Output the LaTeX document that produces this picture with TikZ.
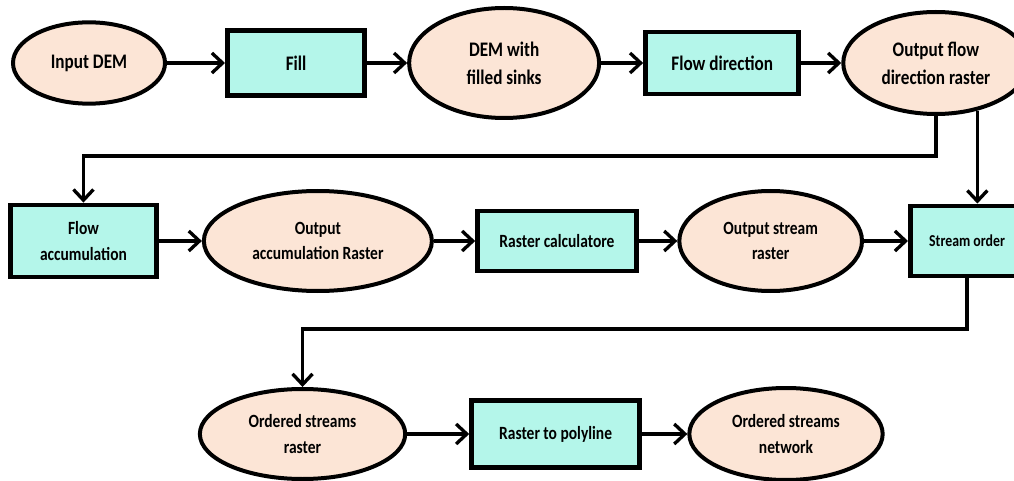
\documentclass[tikz,border=0pt]{standalone}
\usepackage{fontspec}
\setmainfont{Carlito}[FakeStretch=0.83]
\usetikzlibrary{positioning}
\usetikzlibrary{shapes.geometric}
\usetikzlibrary{arrows.meta}
\definecolor{peach}{RGB}{252,229,214}
\definecolor{mint}{RGB}{180,246,234}

\begin{document}
\begin{tikzpicture}[node distance=30pt,
        data/.style={ellipse, draw=black, line width=3pt, fill=peach, align=center, inner sep=0pt},
        process/.style={rectangle, draw=black, line width=3.6pt, fill=mint, align=center},
        arr/.style={line width=2.5pt,-{Straight Barb[length=8pt,width=15pt]}},
        big/.style={font=\fontsize{15.5}{21}\selectfont\bfseries},
        small/.style={font=\fontsize{14}{19}\selectfont\bfseries}
        ]
        \useasboundingbox (0,0) rectangle (760.5pt,-360.75pt);
        % first row
        \node (in)    [data, big, minimum width=114pt, minimum height=61pt] at (66.75pt,-47.25pt) {Input DEM};
        \node (fillp) [process, big, minimum width=103pt, minimum height=49pt, right=43.5pt of in] {Fill};
        \node (dem)   [data, big, minimum width=142.5pt, minimum height=82.5pt, right=of fillp] {DEM with\\filled sinks};
        \node (fdir)  [process, big, minimum width=115pt, minimum height=46.5pt, right=31.5pt of dem] {Flow direction};
        \node (ofd)   [data, big, minimum width=139pt, minimum height=76.5pt, right=of fdir] {Output flow\\direction raster};
        \draw[arr] (in) -- (fillp);
        \draw[arr] (fillp) -- (dem);
        \draw[arr] (dem) -- (fdir);
        \draw[arr] (fdir) -- (ofd);
        % second row
        \node (facc)  [process, small, minimum width=110pt, minimum height=54pt] at (62.6pt,-180.75pt) {Flow\\accumulation};
        \node (oacc)  [data, small, minimum width=171pt, minimum height=75pt, right=32pt of facc] {Output\\accumulation Raster};
        \node (rcalc) [process, small, minimum width=119pt, minimum height=45pt, right=31pt of oacc] {Raster calculatore};
        \node (osr)   [data, small, minimum width=137pt, minimum height=75pt, right=29pt of rcalc] {Output stream\\raster};
        \node (sord)  [process, small, font=\fontsize{12.5}{17}\selectfont\bfseries, minimum width=85pt, minimum height=52.5pt, right=33pt of osr] {Stream order};
        \draw[arr] (facc) -- (oacc);
        \draw[arr] (oacc) -- (rcalc);
        \draw[arr] (rcalc) -- (osr);
        \draw[arr] (osr) -- (sord);
        % third row
        \node (osrast) [data, small, minimum width=154pt, minimum height=67.5pt] at (226.9pt,-325.5pt) {Ordered streams\\raster};
        \node (rpoly)  [process, small, minimum width=126pt, minimum height=50pt, right=46.5pt of osrast] {Raster to polyline};
        \node (osnet)  [data, small, minimum width=145pt, minimum height=69pt, right=34pt of rpoly] {Ordered streams\\network};
        \draw[arr] (osrast) -- (rpoly);
        \draw[arr] (rpoly) -- (osnet);
        % links between rows
        \draw[arr] (ofd.south) -- ++(0,-30pt) -| (facc.north);
        \draw[arr] (ofd.-49) -- (ofd.-49 |- sord.north);
        \draw[arr] (sord.south) -- ++(0,-38pt) -| (osrast.north);
\end{tikzpicture}
\end{document}
